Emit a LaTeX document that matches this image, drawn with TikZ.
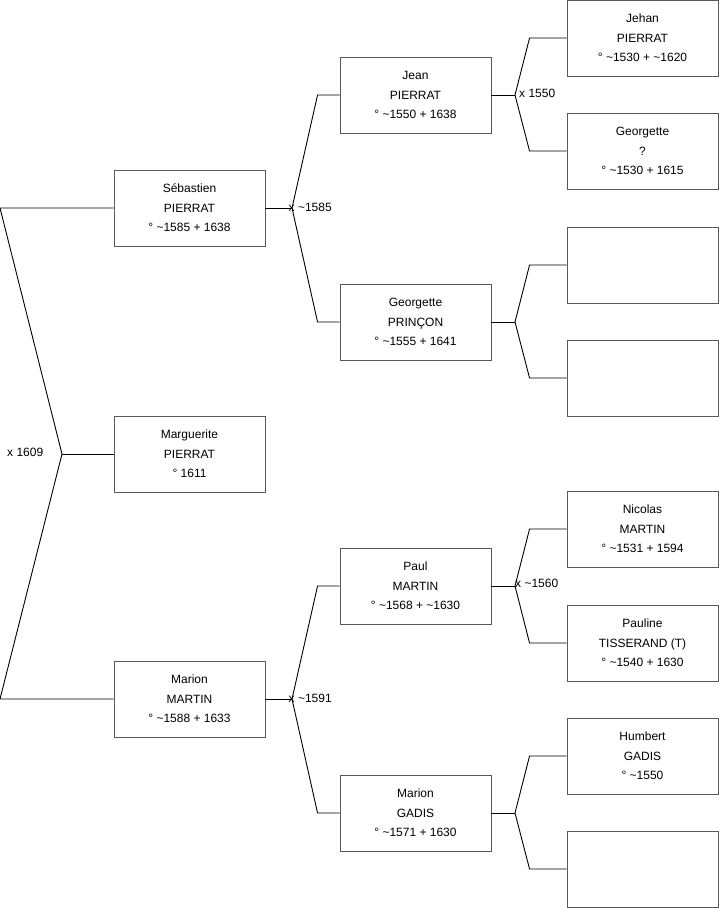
\documentclass[tikz,border=0pt]{standalone}
\usepackage{fontspec}
\setmainfont{Liberation Sans}
\begin{document}
\begin{tikzpicture}[x=1pt,y=-1pt,
  person/.style={draw=black!65,line width=0.9pt,rectangle,minimum width=151pt,minimum height=76pt,inner sep=0pt,align=center,font=\fontsize{12}{19.5}\selectfont},
  conn/.style={draw=black,line width=0.9pt},
  mlabel/.style={anchor=west,inner sep=0pt,font=\fontsize{12}{14}\selectfont}]
\useasboundingbox (0,0) rectangle (719,908);
% generation 1
\node[person] (seb) at (189.5,208) {Sébastien\\PIERRAT\\° \textasciitilde1585 + 1638};
\node[person] (marg) at (189.5,454) {Marguerite\\PIERRAT\\° 1611};
\node[person] (mm) at (189.5,699) {Marion\\MARTIN\\° \textasciitilde1588 + 1633};
% generation 2
\node[person] (jean) at (415.5,95) {Jean\\PIERRAT\\° \textasciitilde1550 + 1638};
\node[person] (gp) at (415.5,322) {Georgette\\PRINÇON\\° \textasciitilde1555 + 1641};
\node[person] (paul) at (415.5,586) {Paul\\MARTIN\\° \textasciitilde1568 + \textasciitilde1630};
\node[person] (mg) at (415.5,813) {Marion\\GADIS\\° \textasciitilde1571 + 1630};
% generation 3
\node[person] (jehan) at (642.5,38) {Jehan\\PIERRAT\\° \textasciitilde1530 + \textasciitilde1620};
\node[person] (geo) at (642.5,151) {Georgette\\?\\° \textasciitilde1530 + 1615};
\node[person] (e1) at (642.5,265) {};
\node[person] (e2) at (642.5,378) {};
\node[person] (nic) at (642.5,529) {Nicolas\\MARTIN\\° \textasciitilde1531 + 1594};
\node[person] (pau) at (642.5,643) {Pauline\\TISSERAND (T)\\° \textasciitilde1540 + 1630};
\node[person] (hum) at (642.5,756) {Humbert\\GADIS\\° \textasciitilde1550};
\node[person] (e3) at (642.5,869) {};
% junctions
\coordinate (j0) at (62,454);
\coordinate (l1) at (0,208);
\coordinate (l2) at (0,699);
\coordinate (j1) at (292,208);
\coordinate (j2) at (292,699);
\coordinate (j3) at (515,95);
\coordinate (j4) at (515,322);
\coordinate (j5) at (515,586);
\coordinate (j6) at (515,813);
% connectors
\draw[conn] (seb.west) -- (l1) -- (j0) -- (l2) -- (mm.west);
\draw[conn] (j0) -- (marg.west);
\draw[conn] (seb.east) -- (j1);
\draw[conn] (j1) -- ([xshift=-22pt]jean.west) -- (jean.west);
\draw[conn] (j1) -- ([xshift=-22pt]gp.west) -- (gp.west);
\draw[conn] (mm.east) -- (j2);
\draw[conn] (j2) -- ([xshift=-22pt]paul.west) -- (paul.west);
\draw[conn] (j2) -- ([xshift=-22pt]mg.west) -- (mg.west);
\draw[conn] (jean.east) -- (j3);
\draw[conn] (j3) -- ([xshift=-37pt]jehan.west) -- (jehan.west);
\draw[conn] (j3) -- ([xshift=-37pt]geo.west) -- (geo.west);
\draw[conn] (gp.east) -- (j4);
\draw[conn] (j4) -- ([xshift=-37pt]e1.west) -- (e1.west);
\draw[conn] (j4) -- ([xshift=-37pt]e2.west) -- (e2.west);
\draw[conn] (paul.east) -- (j5);
\draw[conn] (j5) -- ([xshift=-37pt]nic.west) -- (nic.west);
\draw[conn] (j5) -- ([xshift=-37pt]pau.west) -- (pau.west);
\draw[conn] (mg.east) -- (j6);
\draw[conn] (j6) -- ([xshift=-37pt]hum.west) -- (hum.west);
\draw[conn] (j6) -- ([xshift=-37pt]e3.west) -- (e3.west);
% marriage labels
\node[mlabel] (m0) at (7,452) {x 1609};
\node[mlabel] (m1) at (288.5,207) {x \textasciitilde1585};
\node[mlabel] (m2) at (288.5,698) {x \textasciitilde1591};
\node[mlabel] (m3) at (519,93) {x 1550};
\node[mlabel] (m4) at (515,583) {x \textasciitilde1560};
\end{tikzpicture}
\end{document}
